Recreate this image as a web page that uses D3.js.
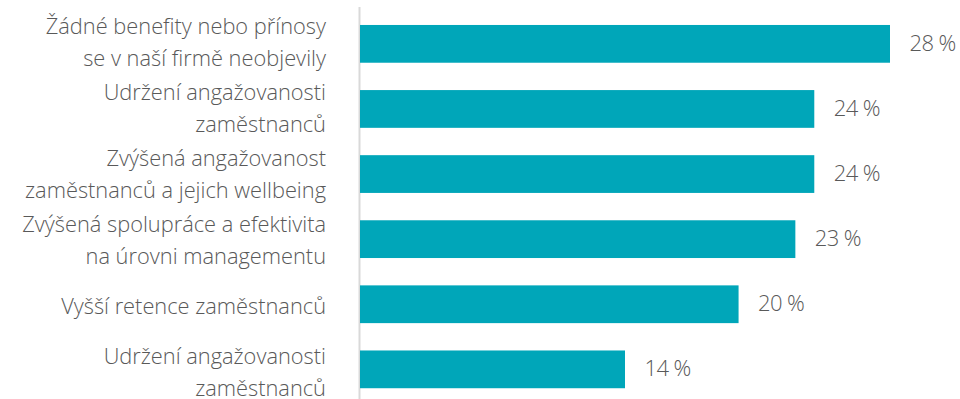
<!DOCTYPE html>
<html>
<head>
<meta charset="utf-8">
<script src="https://cdn.jsdelivr.net/npm/d3@7"></script>
<style>
  html, body { margin: 0; padding: 0; background: #fff; }
  svg { display: block; }
</style>
</head>
<body>
<svg id="chart" width="960" height="399"></svg>
<script>
// Categories (each entry is the list of lines of its label)
const categories = [
  ["Žádné benefity nebo přínosy", "se v naší firmě neobjevily"],
  ["Udržení angažovanosti", "zaměstnanců"],
  ["Zvýšená angažovanost", "zaměstnanců a jejich wellbeing"],
  ["Zvýšená spolupráce a efektivita", "na úrovni managementu"],
  ["Vyšší retence zaměstnanců"],
  ["Udržení angažovanosti", "zaměstnanců"]
];
// Share of respondents, in percent
const values = [28, 24, 24, 23, 20, 14];
const valueLabels = ["28 %", "24 %", "24 %", "23 %", "20 %", "14 %"];

const svg = d3.select("#chart");
const textColor = "#595959";
const barColor = "#00a6b9";

const x = d3.scaleLinear().domain([0, 28]).range([360, 890]);
const y = d3.scaleBand()
  .domain(d3.range(categories.length))
  .range([11.3, 401.9])
  .paddingInner(0.42)
  .paddingOuter(0.21);

// category label block centres
const yLabel = d3.scalePoint()
  .domain(d3.range(categories.length))
  .range([43.4, 373.2]);

// vertical baseline
svg.append("line")
  .attr("x1", 359.5).attr("x2", 359.5)
  .attr("y1", 7).attr("y2", 399)
  .attr("stroke", "#d9d9d9").attr("stroke-width", 2);

// bars
svg.selectAll("rect.bar")
  .data(values)
  .join("rect")
  .attr("class", "bar")
  .attr("x", x(0))
  .attr("y", (d, i) => y(i))
  .attr("width", d => x(d) - x(0))
  .attr("height", y.bandwidth())
  .attr("fill", barColor);

// value labels
svg.selectAll("text.val")
  .data(values)
  .join("text")
  .attr("class", "val")
  .attr("x", d => x(d) + 19.5)
  .attr("y", (d, i) => y(i) + y.bandwidth() / 2 + 7)
  .attr("font-family", "'Open Sans', sans-serif")
  .attr("font-weight", 300)
  .attr("font-size", 22)
  .attr("letter-spacing", -0.6)
  .attr("fill", textColor)
  .text((d, i) => valueLabels[i]);

// category labels
const lineGap = 32;
const lab = svg.selectAll("text.cat")
  .data(categories)
  .join("text")
  .attr("class", "cat")
  .attr("text-anchor", "end")
  .attr("font-family", "'Open Sans', sans-serif")
  .attr("font-weight", 300)
  .attr("font-size", 21.8)
  .attr("fill", textColor);

lab.each(function(lines, i) {
  const c = yLabel(i);
  const base = c + 7 - (lines.length - 1) * lineGap / 2;
  d3.select(this).selectAll("tspan")
    .data(lines)
    .join("tspan")
    .attr("x", 326)
    .attr("y", (d, j) => base + j * lineGap)
    .text(d => d);
});
</script>
</body>
</html>
